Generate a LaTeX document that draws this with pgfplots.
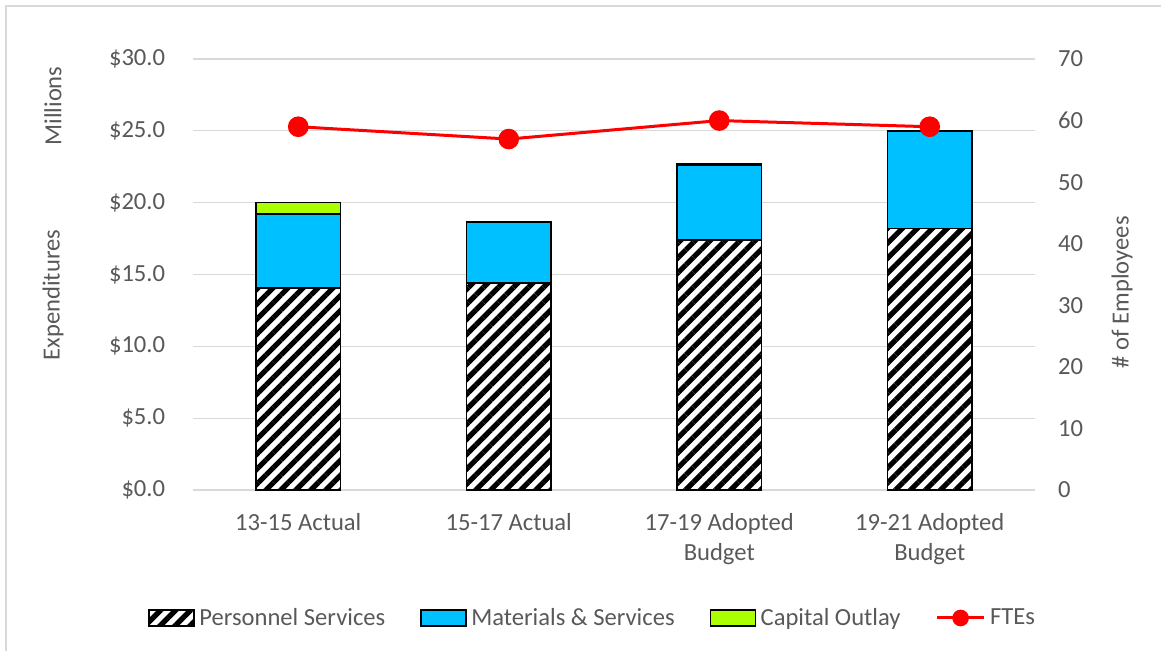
\documentclass[border=0pt]{standalone}
\usepackage{pgfplots}
\pgfplotsset{compat=1.18}
\usepackage{fontspec}
\setmainfont{Carlito}
\usetikzlibrary{patterns.meta}
\definecolor{txt}{HTML}{595959}
\definecolor{grd}{HTML}{D9D9D9}
\definecolor{msblue}{HTML}{00C0FF}
\definecolor{capgreen}{HTML}{AAFF00}
\newcommand{\fs}{\fontsize{12.3}{15}\selectfont}
\pgfplotsset{
  myax/.style={
    scale only axis, width=421pt, height=215.5pt,
    at={(96.5pt,80.5pt)}, anchor=south west,
    xmin=-0.5, xmax=3.5,
    font=\fs,
    tick label style={font=\fs, text=txt},
    label style={font=\fs, text=txt},
    major tick length=0pt,
  },
  barleg/.style={legend image code/.code={\draw[##1] (0pt,-4pt) rectangle (22.5pt,4pt);}},
  ftleg/.style={legend image code/.code={\draw[red, line width=1.5pt] (0pt,0pt) -- (23.5pt,0pt); \fill[red] (11.75pt,0pt) circle (3.4pt);}},
  hatch/.style={fill=white, draw=black, line width=0.8pt,
    postaction={pattern={Lines[angle=45,distance=5.3pt,line width=2.6pt]}, pattern color=black}},
  blu/.style={fill=msblue, draw=black, line width=0.8pt},
  grn/.style={fill=capgreen, draw=black, line width=0.8pt},
}
\begin{document}
\begin{tikzpicture}
\useasboundingbox (0,0) rectangle (580.5pt,325.5pt);
\draw[grd, line width=0.85pt] (2.9pt,0pt) -- (2.9pt,322.6pt) -- (580.5pt,322.6pt);

\begin{axis}[
  myax,
  clip=false,
  ybar stacked, bar width=0.4,
  ymin=0, ymax=30,
  ytick={0,5,10,15,20,25,30},
  yticklabels={\$0.0,\$5.0,\$10.0,\$15.0,\$20.0,\$25.0,\$30.0},
  yticklabel style={xshift=-10.4pt},
  xtick={0,1,2,3},
  xticklabels={13-15 Actual,15-17 Actual,17-19 Adopted\\Budget,19-21 Adopted\\Budget},
  xticklabel style={align=center, yshift=-8.3pt},
  ymajorgrids, grid style={grd, line width=0.6pt},
  axis x line*=bottom, axis y line*=left,
  separate axis lines,
  y axis line style={draw=none},
  x axis line style={grd, line width=0.7pt, -},
  ylabel={Expenditures},
  ylabel style={at={(axis description cs:-0.1663,0.4524)}, anchor=center, rotate=0},
]
\addplot[hatch] coordinates {(0,14.05) (1,14.4) (2,17.4) (3,18.2)};
\addplot[blu] coordinates {(0,5.15) (1,4.25) (2,5.2) (3,6.75)};
\addplot[grn] coordinates {(0,0.8) (1,0) (2,0.1) (3,0.05)};
\node[rotate=90, text=txt, font=\fs] at (axis description cs:-0.1663,0.891) {Millions};
\end{axis}

\begin{axis}[
  myax,
  ymin=0, ymax=70,
  ytick={0,10,20,30,40,50,60,70},
  yticklabels={0,10,20,30,40,50,60,70},
  yticklabel style={xshift=8pt},
  axis x line=none, axis y line*=right,
  y axis line style={draw=none},
  ylabel={\# of Employees},
  ylabel style={at={(axis description cs:1.1033,0.459)}, anchor=center, rotate=0},
  legend columns=4,
  legend style={at={(axis description cs:-0.0534,-0.297)}, anchor=west,
    draw=none, fill=none, inner sep=0pt, font=\fs,
    nodes={inner sep=0pt, text=txt},
    /tikz/every odd column/.append style={column sep=2.2pt},
    /tikz/every even column/.append style={column sep=17.5pt}},
]
\addlegendimage{barleg, hatch}
\addlegendentry{Personnel Services}
\addlegendimage{barleg, blu}
\addlegendentry{Materials \& Services}
\addlegendimage{barleg, grn}
\addlegendentry{Capital Outlay}
\addplot[red, line width=1.5pt, mark=*, mark size=4.4pt, mark options={fill=red, draw=red}, ftleg]
  coordinates {(0,59) (1,57) (2,60) (3,59)};
\addlegendentry{FTEs}
\end{axis}
\end{tikzpicture}
\end{document}
